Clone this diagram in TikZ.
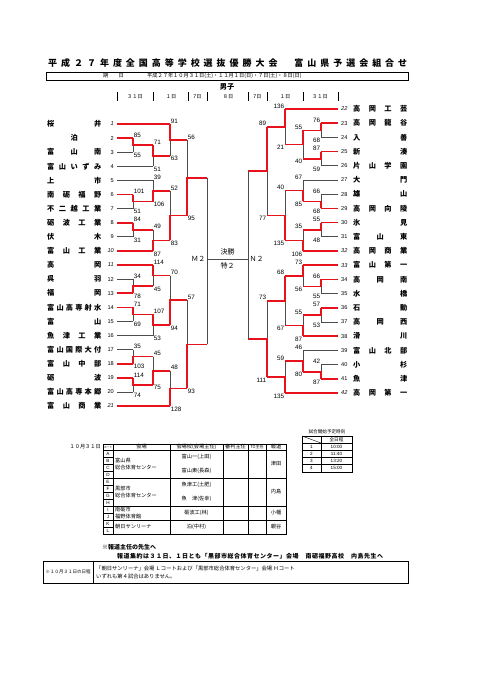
\documentclass[tikz,border=0pt]{standalone}
\usepackage{fontspec}
\setmainfont{Liberation Sans}
\newfontfamily\jp{Noto Sans CJK JP}
\usetikzlibrary{positioning}
\definecolor{bred}{RGB}{232,18,28}

\newcommand\sprend{}
\def\sprloop#1{\ifx#1\sprend\else\sprsep#1\let\sprsep\hfill\expandafter\sprloop\fi}
\newcommand\spr[2]{\hbox to #1{\edef\sprtmp{#2}\let\sprsep\relax\expandafter\sprloop\sprtmp\sprend}}

\newcommand\bout[8]{%
  \pgfmathsetmacro\ym{(#2+#3)/2}%
  \draw[gline] (#1,#2) -- (#1,#3);
  \ifnum#7=1
    \draw[rline] (#1,#2) -- (#1,\ym) -- (#4,\ym);
  \else
    \draw[rline] (#1,#3) -- (#1,\ym) -- (#4,\ym);
  \fi
  \node[score,anchor=south #8] at (#1,#2) {#5};
  \node[score,anchor=north #8] at (#1,#3) {#6};
}

\begin{document}
\begin{tikzpicture}[x=1pt,y=-1pt,
  gline/.style={draw=black!70,line width=0.8pt},
  rline/.style={draw=bred,line width=1.6pt},
  score/.style={font=\fontsize{6.3}{7}\selectfont,inner sep=0.6pt},
  tname/.style={font=\jp\bfseries\fontsize{7.2}{8}\selectfont,inner sep=0pt},
  tnum/.style={font=\fontsize{5.6}{6}\selectfont,inner sep=0pt},
  note/.style={font=\jp\fontsize{5.2}{6}\selectfont,inner sep=0pt},
  tbl/.style={draw=black,line width=0.9pt},
  cell/.style={draw=black,line width=0.4pt}]
\useasboundingbox (0,0) rectangle (481,680);

\node[font=\jp\bfseries\fontsize{9}{10}\selectfont,anchor=west,inner sep=0pt] (title) at (48,63)
  {\spr{359pt}{平成２７年度全国高等学校選抜優勝大会　富山県予選会組合せ}};
\draw[tbl] (46,72) rectangle (408,80);
\node[note] (kijitsu) at (113.5,76) {期　　日};
\node[note,anchor=west] (dates) at (147,76) {平成２７年１０月３１日(土)・１１月１日(日)・７日(土)・８日(日)};
\node[tname] (boys) at (227,87) {男子};

\foreach \x in {117,153,188,207,248,267,303,338}
  \draw[cell] (\x,92) -- (\x,101);
\foreach \x/\d in {135/３１日,171/１日,197.5/7日,228/８日,257.5/7日,285/１日,320/３１日}
  \node[note] at (\x,97) {\d};

\foreach \i/\nm/\xe/\st/\sd in {1/桜井/170/rline/\itshape, 2/{\hfill 泊\hfill}/133/rline/\upshape,
    3/富山南/133/gline/\upshape, 4/富山いずみ/153/gline/\upshape, 5/上市/153/gline/\upshape,
    6/南砺福野/133/rline/\upshape, 7/不二越工業/133/gline/\upshape, 8/砺波工業/133/rline/\upshape,
    9/伏木/133/gline/\upshape, 10/富山工業/153/rline/\itshape, 11/高岡/153/rline/\itshape,
    12/呉羽/133/gline/\upshape, 13/福岡/133/rline/\upshape, 14/富山高専射水/133/rline/\upshape,
    15/富山/133/gline/\upshape, 16/魚津工業/153/gline/\upshape, 17/富山国際大付/133/gline/\upshape,
    18/富山中部/133/rline/\upshape, 19/砺波/133/rline/\upshape, 20/富山高専本郷/133/gline/\upshape,
    21/富山商業/170/rline/\itshape}{
  \pgfmathsetmacro\ty{124+14.1*(\i-1)}
  \node[tname,anchor=west] (L\i) at (47,\ty) {\spr{54pt}{\nm}};
  \node[tnum,anchor=east] (nL\i) at (114,\ty) {\sd\i};
  \draw[\st] (117,\ty) -- (\xe,\ty);
}

\foreach \i/\nm/\xe/\st/\sd in {22/高岡工芸/285/rline/\itshape, 23/高岡龍谷/321/rline/\upshape,
    24/入善/321/gline/\upshape, 25/新湊/321/rline/\upshape, 26/片山学園/321/gline/\upshape,
    27/大門/303/gline/\upshape, 28/雄山/321/gline/\upshape, 29/高岡向陵/321/rline/\upshape,
    30/氷見/321/rline/\upshape, 31/富山東/321/gline/\upshape, 32/高岡商業/303/rline/\itshape,
    33/富山第一/303/rline/\itshape, 34/高岡南/321/rline/\upshape, 35/水橋/321/gline/\upshape,
    36/石動/321/rline/\upshape, 37/高岡西/321/gline/\upshape, 38/滑川/303/rline/\upshape,
    39/富山北部/303/gline/\upshape, 40/小杉/321/gline/\upshape, 41/魚津/321/rline/\upshape,
    42/高岡第一/285/rline/\itshape}{
  \pgfmathsetmacro\ty{109+14.2*(\i-22)}
  \node[tname,anchor=west] (R\i) at (353,\ty) {\spr{54pt}{\nm}};
  \node[tnum,anchor=west] (nR\i) at (341,\ty) {\sd\i};
  \draw[\st] (338,\ty) -- (\xe,\ty);
}

\bout{187}{139.9}{215.65}{207}{56}{95}{2}{west}
\bout{187}{300.25}{388.4}{207}{57}{93}{2}{west}
\bout{170}{124}{155.7}{187}{91}{63}{1}{west}
\bout{170}{191}{240.3}{187}{52}{83}{2}{west}
\bout{170}{275.6}{324.9}{187}{70}{94}{2}{west}
\bout{170}{370.75}{406}{187}{48}{128}{2}{west}
\bout{153}{145.15}{166.3}{170}{71}{51}{1}{west}
\bout{153}{180.4}{201.55}{170}{39}{106}{2}{west}
\bout{153}{229.75}{250.9}{170}{49}{87}{2}{west}
\bout{153}{265}{286.15}{170}{114}{45}{1}{west}
\bout{153}{314.35}{335.5}{170}{107}{53}{1}{west}
\bout{153}{356.65}{384.85}{170}{45}{75}{2}{west}
\bout{133}{138.1}{152.2}{153}{85}{55}{1}{west}
\bout{133}{194.5}{208.6}{153}{101}{51}{1}{west}
\bout{133}{222.7}{236.8}{153}{84}{31}{1}{west}
\bout{133}{279.1}{293.2}{153}{34}{78}{2}{west}
\bout{133}{307.3}{321.4}{153}{71}{69}{1}{west}
\bout{133}{349.6}{363.7}{153}{35}{103}{2}{west}
\bout{133}{377.8}{391.9}{153}{114}{74}{1}{west}

\bout{267}{126.75}{215.5}{248}{89}{77}{1}{east}
\bout{267}{300.7}{377.025}{248}{73}{111}{2}{east}
\bout{285}{109}{144.5}{267}{136}{21}{1}{east}
\bout{285}{190.65}{240.35}{267}{40}{135}{2}{east}
\bout{285}{275.85}{325.55}{267}{68}{67}{1}{east}
\bout{285}{361.05}{393}{267}{59}{135}{2}{east}
\bout{303}{130.3}{158.7}{285}{55}{40}{1}{east}
\bout{303}{180}{201.3}{285}{67}{85}{2}{east}
\bout{303}{229.7}{251}{285}{35}{106}{2}{east}
\bout{303}{265.2}{286.5}{285}{73}{56}{1}{east}
\bout{303}{314.9}{336.2}{285}{55}{87}{2}{east}
\bout{303}{350.4}{371.7}{285}{46}{80}{2}{east}
\bout{321}{123.2}{137.4}{303}{76}{68}{1}{east}
\bout{321}{151.6}{165.8}{303}{87}{59}{1}{east}
\bout{321}{194.2}{208.4}{303}{66}{68}{2}{east}
\bout{321}{222.6}{236.8}{303}{55}{48}{1}{east}
\bout{321}{279.4}{293.6}{303}{66}{55}{1}{east}
\bout{321}{307.8}{322}{303}{57}{53}{1}{east}
\bout{321}{364.6}{378.8}{303}{42}{87}{2}{east}

\draw[gline] (207,177.8) -- (207,344.3);
\draw[gline] (248,171.1) -- (248,338.9);
\coordinate (fl) at (207,259);
\coordinate (fr) at (248,259);
\draw[gline] (fl) -- (fr);
\node[font=\jp\fontsize{7}{8}\selectfont,anchor=east,inner sep=1.5pt] (M2) at (fl) {Ｍ２};
\node[font=\jp\fontsize{7}{8}\selectfont,anchor=west,inner sep=1.5pt] (N2) at (fr) {Ｎ２};
\node[font=\jp\fontsize{7}{8}\selectfont,inner sep=0pt] (final) at (227.5,252) {決勝};
\node[font=\jp\fontsize{7}{8}\selectfont,inner sep=0pt] (toku) at (227.5,266) {特２};

\node[note,anchor=east] (oct) at (101,447) {１０月３１日};
\draw[tbl] (103,444) rectangle (286,534);
\foreach \x in {113,170,223,248,266}
  \draw[cell] (\x,444) -- (\x,534);
\foreach \y in {450,478,506,520}
  \draw[tbl] (103,\y) -- (286,\y);
\foreach \y in {457,464,471,485,492,499,513,527}
  \draw[cell] (103,\y) -- (113,\y);
\foreach \c [count=\k from 0] in {A,B,C,D,E,F,G,H,I,J,K,L}
  \node[note,font=\fontsize{4.6}{5}\selectfont] (ct\c) at (108,453.5+7*\k) {\c};
\node[note,font=\jp\fontsize{2.8}{3}\selectfont] (hc) at (108,447) {コート};
\node[note] (h1) at (141.5,447) {会場};
\node[note] (h2) at (196.5,447) {会場校(会場主任)};
\node[note] (h3) at (235.5,447) {審判主任};
\node[note,font=\jp\fontsize{4}{5}\selectfont] (h4) at (257,447) {TO主任};
\node[note] (h5) at (276,447) {報道};
\node[note,anchor=west,align=left] (v1) at (115,464) {富山県\\[1pt]総合体育センター};
\node[note,anchor=west,align=left] (v2) at (115,492) {黒部市\\[1pt]総合体育センター};
\node[note,anchor=west,align=left] (v3) at (115,513) {南砺市\\[1pt]福野体育館};
\node[note,anchor=west] (v4) at (115,527) {朝日サンリーナ};
\foreach \y/\s in {457/富山一(上田),471/富山東(長森),485/魚津工(土肥),499/魚　津(佐幸),513/砺波工(林),527/泊(中村)}
  \node[note] at (196.5,\y) {\s};
\foreach \y/\s in {464/津田,492/内島,513/小幡,527/親谷}
  \node[note] at (276,\y) {\s};

\node[note,font=\jp\fontsize{4.6}{5}\selectfont] (tcap) at (327,432) {試合開始予定時刻};
\draw[tbl] (302,436) rectangle (352,472);
\draw[cell] (321,436) -- (321,472);
\draw[cell] (302,436) -- (321,443);
\draw[tbl] (302,443) -- (352,443);
\foreach \y in {450.2,457.4,464.6}
  \draw[cell] (302,\y) -- (352,\y);
\node[note,font=\jp\fontsize{4.6}{5}\selectfont] (tall) at (336.5,439.5) {全日程};
\foreach \t [count=\k] in {10:00,11:40,13:20,15:00}{
  \node[note,font=\fontsize{4.6}{5}\selectfont] at (311.5,439.4+7.2*\k) {\k};
  \node[note,font=\fontsize{4.6}{5}\selectfont] at (336.5,439.4+7.2*\k) {\t};
}

\node[note,font=\jp\bfseries\fontsize{6}{7}\selectfont,anchor=west] (memo1) at (102,547) {※報道主任の先生へ};
\node[note,font=\jp\bfseries\fontsize{6}{7}\selectfont,anchor=west] (memo2) at (117,556)
  {\spr{266pt}{報道集約は３１日、１日とも「黒部市総合体育センター」会場　南砺福野高校　内島先生へ}};
\draw[tbl] (43,561) rectangle (408,583);
\draw[cell] (93,561) -- (93,583);
\node[note,font=\jp\fontsize{4.5}{5}\selectfont] (sched) at (68,572) {※１０月３１日の日程};
\node[note,font=\jp\fontsize{5.3}{6}\selectfont,anchor=west] (sl1) at (96,568)
  {「朝日サンリーナ」会場 Ｌコートおよび「黒部市総合体育センター」会場 Ｈコート};
\node[note,font=\jp\fontsize{5.3}{6}\selectfont,anchor=west] (sl2) at (96,576) {いずれも第４試合はありません。};
\end{tikzpicture}
\end{document}
